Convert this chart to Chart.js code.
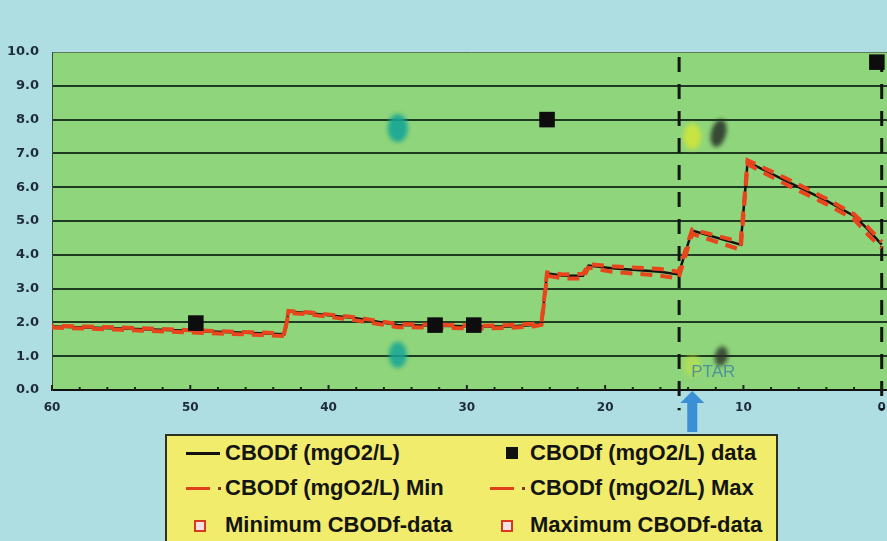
<!DOCTYPE html>
<html>
<head>
<meta charset="utf-8">
<script src="https://cdn.jsdelivr.net/npm/chart.js@4.4.1/dist/chart.umd.min.js"></script>
<style>
html, body { margin: 0; padding: 0; width: 887px; height: 541px; overflow: hidden; background: #aedde2; }
#wrap { position: relative; width: 887px; height: 541px; overflow: hidden; }
#myChart { position: absolute; left: 0; top: 0; }
#legend {
    position: absolute; left: 165px; top: 434px; width: 609px; height: 130px;
    background: #f1ec6b; border: 2px solid #2c3322;
    font: bold 22px "Liberation Sans", Arial, sans-serif; color: #141414;
}
.legend-item { position: absolute; height: 26px; line-height: 26px; white-space: nowrap; }
.sym { position: absolute; }
</style>
</head>
<body>
<div id="wrap">
    <canvas id="myChart" width="910" height="541"></canvas>
    <div id="legend"></div>
</div>
<script>
// distance from the outlet (km) and CBODf profile values
const kmProfile = [60, 55, 50, 45, 43.2, 42.9, 41.5, 38, 35, 32, 29, 27, 25.2, 24.6, 24.2, 23.0, 21.6, 21.2, 19.5, 16, 14.7, 13.7, 10.2, 9.7, 7, 4, 2, 1, 0];
const cbodMain = [1.88, 1.82, 1.75, 1.68, 1.65, 2.32, 2.28, 2.12, 1.92, 1.9, 1.88, 1.88, 1.92, 1.97, 3.45, 3.38, 3.38, 3.68, 3.6, 3.5, 3.42, 4.72, 4.3, 6.75, 6.2, 5.6, 5.15, 4.75, 4.3];
const cbodMin = [1.85, 1.78, 1.7, 1.63, 1.6, 2.28, 2.24, 2.06, 1.86, 1.84, 1.82, 1.84, 1.88, 1.93, 3.38, 3.3, 3.3, 3.62, 3.5, 3.38, 3.3, 4.62, 4.15, 6.68, 6.1, 5.5, 5.05, 4.6, 4.2];
const cbodMax = [1.9, 1.85, 1.77, 1.7, 1.68, 2.34, 2.3, 2.15, 1.95, 1.93, 1.9, 1.92, 1.96, 2.0, 3.48, 3.42, 3.44, 3.72, 3.66, 3.58, 3.5, 4.75, 4.38, 6.8, 6.28, 5.66, 5.2, 4.82, 4.38];

// measured data
const dataKm = [49.6, 32.3, 29.5, 24.2, 0.35];
const dataVal = [1.98, 1.92, 1.92, 8.0, 9.7];

// smudges visible on the screen
const blobKm = [35.0, 35.0, 13.7, 13.7, 11.8, 11.6];
const blobVal = [7.75, 1.04, 7.5, 0.72, 7.6, 1.0];

const ptarKm = 14.65;
const endKm = 0;
const ptarLabel = 'PTAR';
const xTicks = [60, 50, 40, 30, 20, 10, 0];
const yTicks = [0, 1, 2, 3, 4, 5, 6, 7, 8, 9, 10];

function toXY(xs, ys) {
    return xs.map((x, i) => ({ x: x, y: ys[i] }));
}

function blob(color, w, h, rot) {
    const c = document.createElement('canvas');
    c.width = w + 10; c.height = h + 10;
    const g = c.getContext('2d');
    g.filter = 'blur(2px)';
    g.fillStyle = color;
    g.beginPath();
    g.ellipse(c.width / 2, c.height / 2, w / 2, h / 2, rot, 0, Math.PI * 2);
    g.fill();
    return c;
}
const blobStyles = [
    blob('rgba(20,165,150,0.9)', 20, 28, 0),
    blob('rgba(20,165,150,0.85)', 18, 26, 0),
    blob('rgba(205,230,60,0.9)', 18, 26, 0),
    blob('rgba(205,230,60,0.5)', 18, 22, 0),
    blob('rgba(40,48,40,0.85)', 15, 28, 0.25),
    blob('rgba(40,48,40,0.8)', 13, 20, 0.2)
];

const plotBg = {
    id: 'plotBg',
    beforeDraw(chart) {
        const a = chart.chartArea, ctx = chart.ctx;
        ctx.save();
        ctx.fillStyle = '#8fd57b';
        ctx.fillRect(a.left, a.top, a.right - a.left, a.bottom - a.top);
        ctx.restore();
    }
};

const extras = {
    id: 'extras',
    afterDraw(chart) {
        const ctx = chart.ctx, xs = chart.scales.x, ys = chart.scales.y;
        const bottom = chart.chartArea.bottom;
        ctx.save();
        // small ticks along the x axis, every 2 km
        ctx.strokeStyle = '#1a2418';
        ctx.lineWidth = 2;
        for (let v = 0; v <= 60; v += 2) {
            const px = xs.getPixelForValue(v);
            ctx.beginPath();
            ctx.moveTo(px, bottom);
            ctx.lineTo(px, bottom - (v % 10 === 0 ? 5 : 3));
            ctx.stroke();
        }
        // PTAR label
        ctx.fillStyle = 'rgba(70,140,160,0.9)';
        ctx.font = '17px "Liberation Sans", Arial, sans-serif';
        ctx.textBaseline = 'middle';
        ctx.fillText(ptarLabel, xs.getPixelForValue(13.7) - 1, ys.getPixelForValue(0.52));
        // arrow under the axis
        const ax = xs.getPixelForValue(13.7);
        ctx.fillStyle = '#3b8fd4';
        ctx.beginPath();
        ctx.moveTo(ax, bottom + 1);
        ctx.lineTo(ax + 12, bottom + 13);
        ctx.lineTo(ax + 5, bottom + 13);
        ctx.lineTo(ax + 5, bottom + 42);
        ctx.lineTo(ax - 5, bottom + 42);
        ctx.lineTo(ax - 5, bottom + 13);
        ctx.lineTo(ax - 12, bottom + 13);
        ctx.closePath();
        ctx.fill();
        ctx.restore();
    }
};

const datasets = [
    {
        label: 'CBODf (mgO2/L) data',
        data: toXY(dataKm, dataVal),
        showLine: false,
        pointStyle: 'rect',
        pointRadius: 11,
        backgroundColor: '#0d0d0d',
        borderColor: '#0d0d0d',
        borderWidth: 0,
        order: 0,
        legendSym: 'square'
    },
    {
        label: 'CBODf (mgO2/L) Min',
        data: toXY(kmProfile, cbodMin),
        borderColor: '#e8451d',
        borderWidth: 4,
        borderDash: [12, 8],
        pointRadius: 0,
        tension: 0,
        order: 1,
        legendSym: 'dash'
    },
    {
        label: 'CBODf (mgO2/L) Max',
        data: toXY(kmProfile, cbodMax),
        borderColor: '#e8451d',
        borderWidth: 4,
        borderDash: [12, 8],
        borderDashOffset: 10,
        pointRadius: 0,
        tension: 0,
        order: 1,
        legendSym: 'dash'
    },
    {
        label: 'CBODf (mgO2/L)',
        data: toXY(kmProfile, cbodMain),
        borderColor: '#111111',
        borderWidth: 2.5,
        pointRadius: 0,
        tension: 0,
        order: 2,
        legendSym: 'line'
    },
    {
        label: 'Minimum CBODf-data',
        data: [],
        showLine: false,
        legendSym: 'open'
    },
    {
        label: 'Maximum CBODf-data',
        data: [],
        showLine: false,
        legendSym: 'open'
    },
    {
        label: 'PTAR',
        data: [{ x: ptarKm, y: 10 }, { x: ptarKm, y: -0.6 }],
        borderColor: '#141414',
        borderWidth: 3,
        borderDash: [15, 12],
        borderDashOffset: 22,
        pointRadius: 0,
        clip: false,
        order: 3
    },
    {
        label: 'end',
        data: [{ x: endKm, y: 10 }, { x: endKm, y: -0.6 }],
        borderColor: '#141414',
        borderWidth: 3,
        borderDash: [15, 12],
        borderDashOffset: 22,
        pointRadius: 0,
        clip: false,
        order: 3
    },
    {
        label: 'marks',
        data: toXY(blobKm, blobVal),
        showLine: false,
        pointStyle: blobStyles,
        order: 4
    }
];

const myChart = new Chart('myChart', {
    type: 'line',
    data: { datasets: datasets },
    options: {
        responsive: false,
        animation: false,
        devicePixelRatio: 1,
        layout: { padding: { top: 52, left: 0, right: 20, bottom: 0 } },
        plugins: {
            legend: { display: false },
            tooltip: { enabled: false }
        },
        scales: {
            x: {
                type: 'linear',
                reverse: true,
                min: -0.6,
                max: 60,
                afterFit: s => { s.height = 151; },
                afterBuildTicks: s => { s.ticks = xTicks.map(v => ({ value: v })); },
                ticks: {
                    color: '#1d2a3a',
                    font: { family: 'DejaVu Sans', weight: 'bold', size: 12 },
                    padding: 11,
                    maxRotation: 0,
                    autoSkip: false
                },
                grid: { display: false, drawTicks: false },
                border: { display: true, color: '#111', width: 2 }
            },
            y: {
                min: 0,
                max: 10,
                afterFit: s => { s.width = 52; },
                afterBuildTicks: s => { s.ticks = yTicks.map(v => ({ value: v })); },
                ticks: {
                    callback: v => v.toFixed(1),
                    color: '#1d2a3a',
                    font: { family: 'DejaVu Sans', weight: 'bold', size: 13 },
                    padding: 13
                },
                grid: {
                    drawTicks: false,
                    color: ctx => ctx.tick && ctx.tick.value === 10 ? '#5f7a5a' : '#1e3a20',
                    lineWidth: ctx => ctx.tick && ctx.tick.value === 10 ? 1 : 2
                },
                border: { display: true, color: '#3b4a3a', width: 1 }
            }
        }
    },
    plugins: [plotBg, extras]
});

// legend box, two columns, built from the dataset labels
const legendLayout = [
    { ds: 3, left: 19, row: 0, text: 58 },
    { ds: 0, left: 339, row: 0, text: 363 },
    { ds: 1, left: 19, row: 1, text: 58 },
    { ds: 2, left: 323, row: 1, text: 363 },
    { ds: 4, left: 27, row: 2, text: 58 },
    { ds: 5, left: 334, row: 2, text: 363 }
];
const rowTops = [4, 39, 76];
const legendEl = document.getElementById('legend');
legendLayout.forEach(it => {
    const d = datasets[it.ds];
    const el = document.createElement('div');
    el.className = 'legend-item';
    el.style.left = '0px';
    el.style.top = rowTops[it.row] + 'px';
    let sym = '';
    if (d.legendSym === 'line') {
        sym = '<span class="sym" style="left:' + it.left + 'px;top:12px;width:34px;height:3px;background:#111"></span>';
    } else if (d.legendSym === 'square') {
        sym = '<span class="sym" style="left:' + it.left + 'px;top:7px;width:12px;height:12px;background:#111"></span>';
    } else if (d.legendSym === 'dash') {
        sym = '<span class="sym" style="left:' + it.left + 'px;top:12px;width:24px;height:3px;background:#e0401c"></span>' +
              '<span class="sym" style="left:' + (it.left + 32) + 'px;top:12px;width:3px;height:3px;background:#7a3a1a"></span>';
    } else if (d.legendSym === 'open') {
        sym = '<span class="sym" style="left:' + it.left + 'px;top:8px;width:8px;height:8px;background:#f6e3e6;border:2px solid #d8391c"></span>';
    }
    el.innerHTML = sym + '<span style="position:absolute;left:' + it.text + 'px;top:0">' + d.label + '</span>';
    legendEl.appendChild(el);
});
</script>
</body>
</html>
